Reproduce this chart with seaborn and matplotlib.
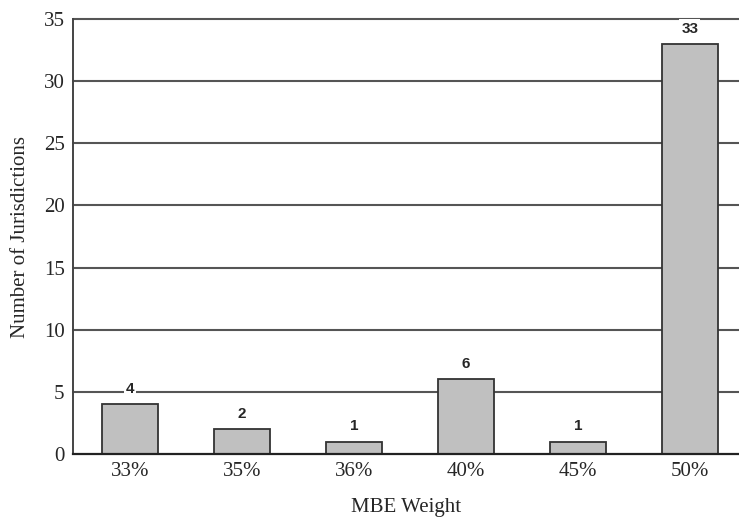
import pandas as pd
import numpy as np
import matplotlib.pyplot as plt
import seaborn as sns

weights = ["33%", "35%", "36%", "40%", "45%", "50%"]
counts = [4, 2, 1, 6, 1, 33]
y_ticks = [0, 5, 10, 15, 20, 25, 30, 35]

df = pd.DataFrame({"MBE Weight": weights, "Number of Jurisdictions": counts})

sns.set_style("white")
plt.rcParams["font.family"] = ["Liberation Serif", "DejaVu Serif"]

fig = plt.figure(figsize=(7.39, 5.21), dpi=100)
ax = fig.add_axes([0.0988, 0.1286, 0.9012, 0.8349])

for t in y_ticks[1:]:
    ax.axhline(t, color="#555555", linewidth=1.5, zorder=0, clip_on=False)

sns.barplot(data=df, x="MBE Weight", y="Number of Jurisdictions", color="#c0c0c0",
            edgecolor="#333333", linewidth=1.3, width=0.5, saturation=1, ax=ax, zorder=2)

for i, v in enumerate(counts):
    ax.annotate(str(v), (i, v), xytext=(0, 11), textcoords="offset points",
                ha="center", va="center", fontsize=11, fontweight="bold",
                family=["Liberation Sans", "DejaVu Sans"], zorder=3,
                bbox=dict(facecolor="white", edgecolor="none", pad=1.5))

ax.set_xlim(-0.51, 5.44)
ax.set_ylim(0, 35)
ax.set_yticks(y_ticks)
ax.tick_params(axis="both", labelsize=15, length=0, pad=6)
ax.set_xlabel("MBE Weight", fontsize=15, labelpad=12)
ax.set_ylabel("Number of Jurisdictions", fontsize=15, labelpad=10)

for s in ["top", "right"]:
    ax.spines[s].set_visible(False)
ax.spines["left"].set_color("#444444")
ax.spines["left"].set_linewidth(1.4)
ax.spines["bottom"].set_color("#222222")
ax.spines["bottom"].set_linewidth(1.6)

plt.savefig("out.png", dpi=100)
